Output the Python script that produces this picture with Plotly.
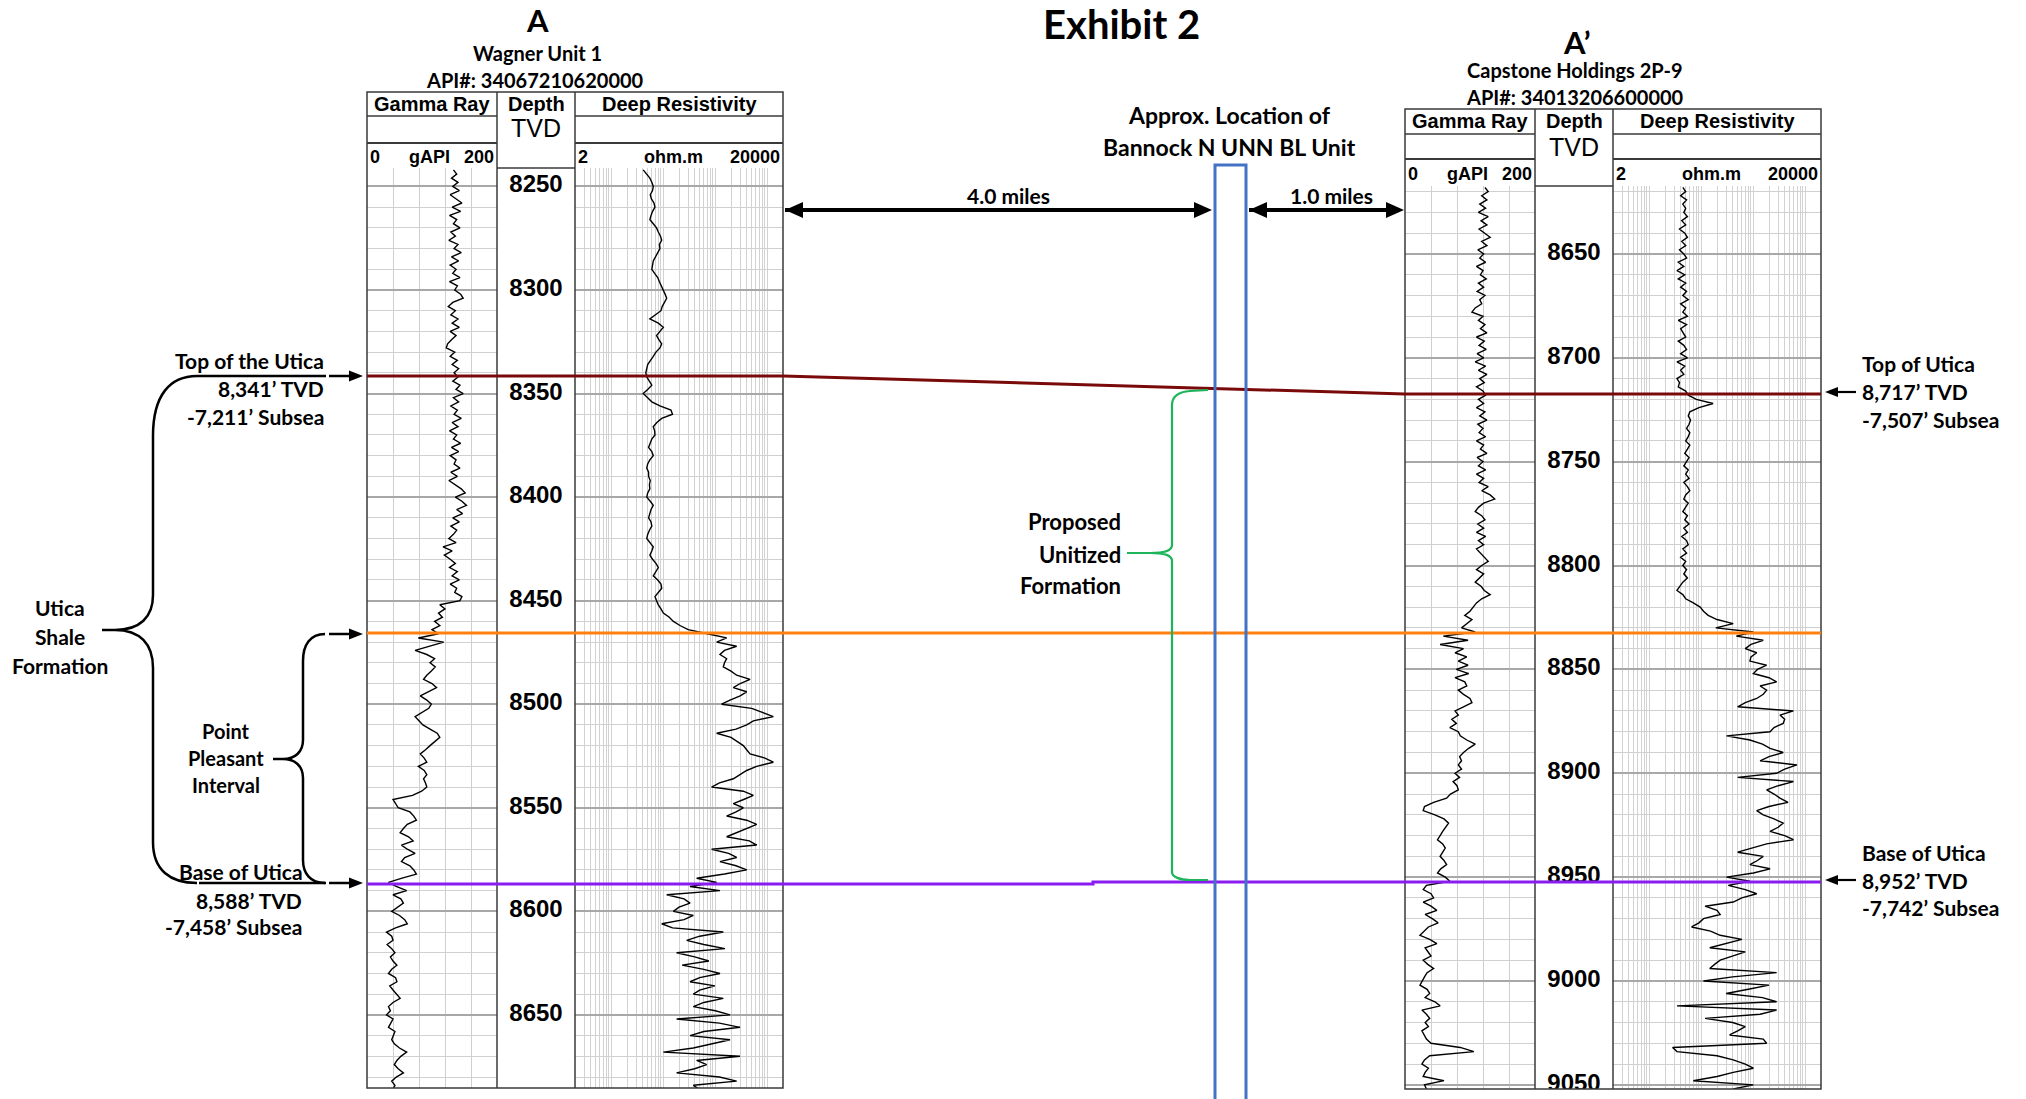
import numpy as np
import plotly.graph_objects as go

W, H = 2026, 1099

# ---------------- data ----------------
title_text = "Exhibit 2"
well_a = ["A", "Wagner Unit 1", "API#: 34067210620000"]
well_b = ["A’", "Capstone Holdings 2P-9", "API#: 34013206600000"]

# Well A (Wagner Unit 1): samples every 2 ft, 8242 .. 8686 ft TVD
a_depth = np.arange(8242, 8687, 2)
a_gr = [
    133,138,130,140,132,142,128,137,146,131,144,127,138,133,143,129,136,126,140,134,
    145,130,141,128,137,132,143,127,139,135,144,148,132,125,136,129,140,131,142,128,
    137,130,124,122,135,128,139,131,141,134,
    140,132,143,137,148,133,141,129,139,134,145,131,140,127,138,133,144,130,141,128,
    137,134,143,129,139,126,136,145,151,136,146,153,138,147,132,142,129,138,133,126,
    137,117,131,119,128,136,127,139,131,142,128,138,135,146,143,
    112,120,110,116,104,112,100,110,
    79,118,95,74,92,104,97,105,99,92,87,100,107,95,82,92,99,95,84,74,
    80,86,97,108,112,104,97,90,82,88,92,79,88,92,87,90,92,84,70,40,
    44,48,66,72,76,62,56,51,64,71,53,62,74,58,53,66,72,76,54,33,
    45,61,40,52,56,47,38,50,58,62,44,30,38,40,31,38,43,36,40,46,
    38,33,44,46,35,40,45,51,40,33,36,30,40,36,33,43,40,38,42,50,
    61,52,46,42,48,56,45,38,43,40]
a_res = [
    41,48,55,60,64,62,56,59,66,69,62,58,55,64,74,80,88,93,84,86,
    78,70,64,62,60,68,78,84,92,100,108,116,104,95,90,70,55,80,100,86,
    74,82,93,86,72,64,56,50,48,46,
    48,54,60,50,41,50,60,86,140,150,93,75,64,68,69,60,56,52,60,64,
    55,50,48,52,52,56,54,55,50,48,56,64,58,54,52,58,60,54,50,48,
    56,64,60,55,62,72,80,72,64,78,90,93,80,69,74,
    80,90,100,130,156,209,300,700,
    1650,1060,2570,1500,1228,1650,1500,1423,2000,2570,4650,3000,2217,4010,3000,1914,1320,5000,8000,13030,
    5380,4010,2500,1060,2000,2570,3450,4000,4650,9000,13030,6240,4000,2980,2217,1200,849,3450,5380,3500,
    2217,3450,2500,1650,4000,6240,4010,2500,1650,4500,6240,849,1800,2570,1228,2500,4010,1500,437,1060,
    326,1228,116,250,326,200,156,377,250,93,150,1423,500,281,600,1530,180,400,750,230,
    600,1228,500,326,980,500,377,1423,600,377,1000,1914,180,1200,2980,600,326,1914,800,377,
    100,2980,437,681,400,180,1200,2570,377,500]

# Well A' (Capstone Holdings 2P-9): samples every 2 ft, 8618 .. 9052 ft TVD
b_depth = np.arange(8618, 9053, 2)
b_gr = [
    123,128,118,126,115,124,113,128,117,126,114,122,131,118,126,112,121,115,124,110,
    120,116,125,113,121,111,123,115,118,108,103,120,113,123,116,126,110,122,114,125,
    111,121,108,124,113,126,115,122,110,120,
    124,113,121,110,123,115,126,112,120,114,124,110,121,116,126,111,120,113,124,110,
    121,114,128,118,131,138,121,113,108,118,123,112,121,110,124,113,121,110,116,122,
    128,118,110,121,115,108,117,122,131,118,110,105,100,92,103,95,87,
    108,59,97,54,90,77,95,82,97,79,98,77,92,95,82,90,100,103,90,77,
    82,72,79,69,82,85,95,108,98,90,84,87,82,87,77,84,74,80,82,70,
    64,44,30,28,46,60,67,62,58,54,50,58,62,58,54,60,64,55,50,62,69,
    33,28,40,44,28,40,49,31,42,51,36,30,23,38,49,31,36,40,28,35,
    44,34,30,26,23,34,38,31,46,54,26,33,38,31,36,26,30,33,40,85,
    106,38,30,26,36,31,28,60,30,33]
b_res = [
    44,50,40,52,44,50,46,54,42,50,38,48,54,42,50,38,46,52,36,46,
    34,48,36,50,40,52,44,56,40,50,44,54,36,52,40,44,50,36,46,52,
    40,54,34,48,40,46,34,38,36,50,
    56,80,168,90,60,56,62,58,52,60,56,50,60,54,48,58,52,46,56,50,
    58,46,54,60,50,46,56,50,44,54,48,58,46,54,42,52,56,44,52,40,
    50,44,52,46,54,44,39,34,44,50,70,95,110,135,200,410,190,
    1000,470,1550,900,700,1160,900,860,1800,1200,1000,2000,2800,1350,1800,1550,1160,700,500,5900,
    3250,4000,3750,2500,2100,305,860,1500,2100,3750,2000,1350,6900,4000,2800,500,5900,3000,1800,2500,
    3250,4650,2000,1160,1550,2500,3750,3000,2100,4000,5900,1800,900,500,1550,1200,860,2100,1000,305,860,
    330,700,1160,600,410,118,200,230,110,90,65,150,230,600,300,145,700,400,230,180,
    145,2800,400,110,2000,800,300,1500,2800,34,2800,1350,118,400,700,500,350,1550,1800,28,
    34,200,410,700,1000,410,200,70,1000,410]

a_depth_labels = [8250, 8300, 8350, 8400, 8450, 8500, 8550, 8600, 8650]
b_depth_labels = [8650, 8700, 8750, 8800, 8850, 8900, 8950, 9000, 9050]

a_tops = ["Top of the Utica", "8,341’ TVD", "-7,211’ Subsea",
          "Base of Utica", "8,588’ TVD", "-7,458’ Subsea"]
b_tops = ["Top of Utica", "8,717’ TVD", "-7,507’ Subsea",
          "Base of Utica", "8,952’ TVD", "-7,742’ Subsea"]
distances = ["4.0 miles", "1.0 miles"]

assert len(a_gr) == len(a_depth) and len(a_res) == len(a_depth)
assert len(b_gr) == len(b_depth) and len(b_res) == len(b_depth)

# ---------------- helpers ----------------
LATO = "Lato, 'Open Sans', sans-serif"
ARIAL = "'Liberation Sans', Arial, sans-serif"
NARROW = ARIAL


def fx(x):
    return x / W


def fy(y):
    return 1 - y / H


def P(pt):
    return f"{fx(pt[0]):.6f},{fy(pt[1]):.6f}"


def mkpath(spec):
    out = []
    for cmd, pts in spec:
        out.append(cmd + " " + " ".join(P(p) for p in pts))
    return " ".join(out)


shapes = []


def line(x0, y0, x1, y1, color="#3a3a3a", width=1.5):
    shapes.append(dict(type="line", xref="paper", yref="paper",
                       x0=fx(x0), y0=fy(y0), x1=fx(x1), y1=fy(y1),
                       line=dict(color=color, width=width), layer="above"))


def pathshape(spec, color, width, fill=None):
    d = dict(type="path", xref="paper", yref="paper", path=mkpath(spec),
             line=dict(color=color, width=width), layer="above")
    if fill:
        d["fillcolor"] = fill
        d["line"] = dict(color=color, width=0)
    shapes.append(d)


def head(tx, ty, direction, length, half):
    bx = tx - direction * length
    pathshape([("M", [(tx, ty)]), ("L", [(bx, ty - half)]), ("L", [(bx, ty + half)]), ("Z", [])],
              "black", 0, fill="black")


def arrow(x_tail, x_tip, y, width=2.5, length=14, half=5.5, both=False):
    d = 1 if x_tip > x_tail else -1
    line(x_tail, y, x_tip - d * length * 0.6, y, "black", width)
    head(x_tip, y, d, length, half)
    if both:
        line(x_tail + d * length * 0.6, y, x_tip - d * length * 0.6, y, "black", width)
        head(x_tail, y, -d, length, half)


annotations = []


def txt(s, x, y, size, anchor="center", family=LATO, bold=True):
    annotations.append(dict(text=s, x=fx(x), y=fy(y), xref="paper", yref="paper",
                            xanchor=anchor, yanchor="middle", showarrow=False,
                            font=dict(family=family, size=size, color="black",
                                      weight="bold" if bold else "normal")))


# ---------------- geometry (pixels) ----------------
LA = dict(x0=367, x1=497, x2=575, x3=783, top=92, r1=116, r2=143, dtop=168, bot=1088,
          rng=[8685.3, 8241.1])
LB = dict(x0=1405, x1=1535, x2=1613, x3=1821, top=109, r1=134, r2=159, dtop=186, bot=1089,
          rng=[9052.0, 8617.3])

fig = go.Figure()

layout_axes = {}


def add_well(L, idx, depth, gr, res, labels):
    ydom = [fy(L["bot"]), fy(L["dtop"])]
    n = [str(i) if i > 1 else "" for i in (idx, idx + 1, idx + 2)]
    layout_axes["xaxis" + n[0]] = dict(domain=[fx(L["x0"]), fx(L["x1"])], range=[0, 200],
                                       anchor="y" + n[0], dtick=40, tick0=0, showgrid=True,
                                       gridcolor="#cfcfcf", gridwidth=1, showticklabels=False,
                                       ticks="", zeroline=False, showline=False, fixedrange=True)
    layout_axes["xaxis" + n[1]] = dict(domain=[fx(L["x1"]), fx(L["x2"])], range=[0, 1],
                                       anchor="y" + n[1], visible=False, fixedrange=True)
    layout_axes["xaxis" + n[2]] = dict(domain=[fx(L["x2"]), fx(L["x3"])], type="log",
                                       range=[np.log10(2), np.log10(20000)], dtick="D1",
                                       anchor="y" + n[2], showgrid=True, gridcolor="#d2d2d2",
                                       gridwidth=1, showticklabels=False, ticks="",
                                       zeroline=False, showline=False, fixedrange=True)
    for k, grid in ((0, True), (1, False), (2, True)):
        layout_axes["yaxis" + n[k]] = dict(domain=ydom, range=L["rng"], anchor="x" + n[k],
                                           dtick=50, tick0=0, showgrid=grid,
                                           gridcolor="#a8a8a8", gridwidth=2,
                                           minor=dict(dtick=10, tick0=0, showgrid=grid,
                                                      gridcolor="#d0d0d0", gridwidth=1),
                                           showticklabels=False, ticks="", zeroline=False,
                                           showline=False, visible=grid, fixedrange=True)
    fig.add_trace(go.Scatter(x=gr, y=depth, mode="lines", line=dict(color="black", width=1.4),
                             xaxis="x" + n[0], yaxis="y" + n[0], hoverinfo="skip",
                             showlegend=False))
    fig.add_trace(go.Scatter(x=[0.5] * len(labels), y=labels, mode="text",
                             text=[str(v) for v in labels],
                             textfont=dict(family=ARIAL, size=24, color="black", weight="bold"),
                             cliponaxis=True, xaxis="x" + n[1], yaxis="y" + n[1],
                             hoverinfo="skip", showlegend=False))
    fig.add_trace(go.Scatter(x=res, y=depth, mode="lines", line=dict(color="black", width=1.4),
                             xaxis="x" + n[2], yaxis="y" + n[2], hoverinfo="skip",
                             showlegend=False))


add_well(LA, 1, a_depth, a_gr, a_res, a_depth_labels)
add_well(LB, 4, b_depth, b_gr, b_res, b_depth_labels)


def frame(L):
    c = "#3a3a3a"
    shapes.append(dict(type="rect", xref="paper", yref="paper", x0=fx(L["x0"]), x1=fx(L["x3"]),
                       y0=fy(L["bot"]), y1=fy(L["top"]), line=dict(color=c, width=1.5),
                       layer="above"))
    line(L["x1"], L["top"], L["x1"], L["bot"], c, 1.5)
    line(L["x2"], L["top"], L["x2"], L["bot"], c, 1.5)
    for yy, w in ((L["r1"], 1.5), (L["r2"], 2)):
        line(L["x0"], yy, L["x1"], yy, c, w)
        line(L["x2"], yy, L["x3"], yy, c, w)
    line(L["x1"], L["dtop"], L["x2"], L["dtop"], c, 1.5)


frame(LA)
frame(LB)

# correlation lines
pathshape([("M", [(367, 376)]), ("L", [(783, 376)]), ("L", [(1405, 394)]), ("L", [(1821, 394)])],
          "#7a0a0a", 3)
pathshape([("M", [(367, 633)]), ("L", [(1821, 633)])], "#ff8010", 3)
pathshape([("M", [(367, 884)]), ("L", [(1093, 884)]), ("L", [(1093, 882)]), ("L", [(1821, 882)])],
          "#8a1cf0", 3)

# green brace (proposed unitized formation)
pathshape([("M", [(1208, 390)]), ("L", [(1190, 391)]), ("C", [(1178, 392), (1172, 396), (1172, 405)]),
           ("L", [(1172, 545)]), ("C", [(1172, 551), (1165, 553), (1150, 553)]), ("L", [(1127, 553)]),
           ("M", [(1150, 553)]), ("C", [(1165, 553), (1172, 555), (1172, 561)]),
           ("L", [(1172, 872)]), ("C", [(1172, 877), (1180, 880), (1190, 880)]), ("L", [(1208, 880)])],
          "#1db45a", 2.2)

# blue location box
shapes.append(dict(type="rect", xref="paper", yref="paper", x0=fx(1215), x1=fx(1246),
                   y0=fy(1110), y1=fy(165), line=dict(color="#4472c4", width=3), layer="above"))

# big brace (Utica Shale Formation)
pathshape([("M", [(197, 376)]), ("C", [(170, 376), (153, 395), (153, 436)]), ("L", [(153, 595)]),
           ("C", [(153, 617), (140, 630), (115, 630)]), ("L", [(102, 630)]),
           ("M", [(115, 630)]), ("C", [(140, 630), (153, 644), (153, 668)]), ("L", [(153, 842)]),
           ("C", [(153, 870), (170, 883), (197, 883)])], "black", 2.5)
# small brace (Point Pleasant)
pathshape([("M", [(325, 634)]), ("C", [(310, 634), (303, 645), (303, 661)]), ("L", [(303, 740)]),
           ("C", [(303, 752), (295, 759), (283, 759)]), ("L", [(273, 759)]),
           ("M", [(283, 759)]), ("C", [(295, 759), (303, 766), (303, 778)]), ("L", [(303, 860)]),
           ("C", [(303, 873), (310, 883), (325, 883)])], "black", 2.5)
# underlines
line(197, 376, 326, 376, "black", 2.5)
line(199, 883, 326, 883, "black", 2.5)
# arrows into left log
arrow(329, 363, 376)
arrow(329, 363, 634)
arrow(329, 363, 883)
# arrows into right log
arrow(1856, 1825, 392, width=2.2, length=13, half=5)
arrow(1856, 1825, 880, width=2.2, length=13, half=5)
# distance arrows
arrow(785, 1212, 210, width=4, length=18, half=8, both=True)
arrow(1249, 1404, 210, width=4, length=18, half=8, both=True)

# ---------------- text ----------------
txt(title_text, 1121, 24, 40)
txt(well_a[0], 537, 20, 31)
txt(well_a[1], 537, 53, 20)
txt(well_a[2], 535, 80, 20)
txt(well_b[0], 1577, 42, 31)
txt(well_b[1], 1575, 70, 20)
txt(well_b[2], 1575, 97, 20)

for L, hy, tvy, sy, gx, ox in ((LA, 104, 128, 157, 429, 673), (LB, 121, 147, 174, 1467, 1711)):
    txt("Gamma Ray", (L["x0"] + L["x1"]) / 2, hy, 20, family=NARROW)
    txt("Depth", (L["x1"] + L["x2"]) / 2, hy, 20, family=NARROW)
    txt("Deep Resistivity", (L["x2"] + L["x3"]) / 2, hy, 20, family=NARROW)
    txt("TVD", (L["x1"] + L["x2"]) / 2, tvy, 25, family=ARIAL, bold=False)
    txt("0", L["x0"] + 1, sy, 18, anchor="left", family=NARROW)
    txt("gAPI", gx, sy, 18, family=NARROW)
    txt("200", L["x1"] - 1, sy, 18, anchor="right", family=NARROW)
    txt("2", L["x2"] + 1, sy, 18, anchor="left", family=NARROW)
    txt("ohm.m", ox, sy, 18, family=NARROW)
    txt("20000", L["x3"] - 1, sy, 18, anchor="right", family=NARROW)

# left side tops
txt(a_tops[0], 249, 361, 21)
txt(a_tops[1], 326, 389, 21, anchor="right")
txt(a_tops[2], 326, 417, 21, anchor="right")
txt(a_tops[3], 241, 871, 21)
txt(a_tops[4], 304, 900, 21, anchor="right")
txt(a_tops[5], 304, 926, 21, anchor="right")
for s, yy in (("Utica", 607), ("Shale", 636), ("Formation", 665)):
    txt(s, 60, yy, 21)
for s, yy in (("Point", 731), ("Pleasant", 758), ("Interval", 785)):
    txt(s, 226, yy, 20)

# right side tops
for s, yy in zip(b_tops, (364, 392, 419, 852, 880, 907)):
    txt(s, 1860, yy, 21, anchor="left")

# center
txt("Approx. Location of", 1229, 115, 23)
txt("Bannock N UNN BL Unit", 1229, 147, 23)
txt(distances[0], 1008, 195, 21)
txt(distances[1], 1331, 195, 21)
for s, yy in (("Proposed", 522), ("Unitized", 554), ("Formation", 585)):
    txt(s, 1123, yy, 22, anchor="right")

fig.update_layout(width=W, height=H, margin=dict(l=0, r=0, t=0, b=0),
                  paper_bgcolor="white", plot_bgcolor="rgba(0,0,0,0)",
                  showlegend=False, shapes=shapes, annotations=annotations,
                  hovermode=False, **layout_axes)

fig.write_html("out.html", config=dict(displayModeBar=False),
               post_script="document.body.style.margin='0';document.body.style.overflow='hidden';")
